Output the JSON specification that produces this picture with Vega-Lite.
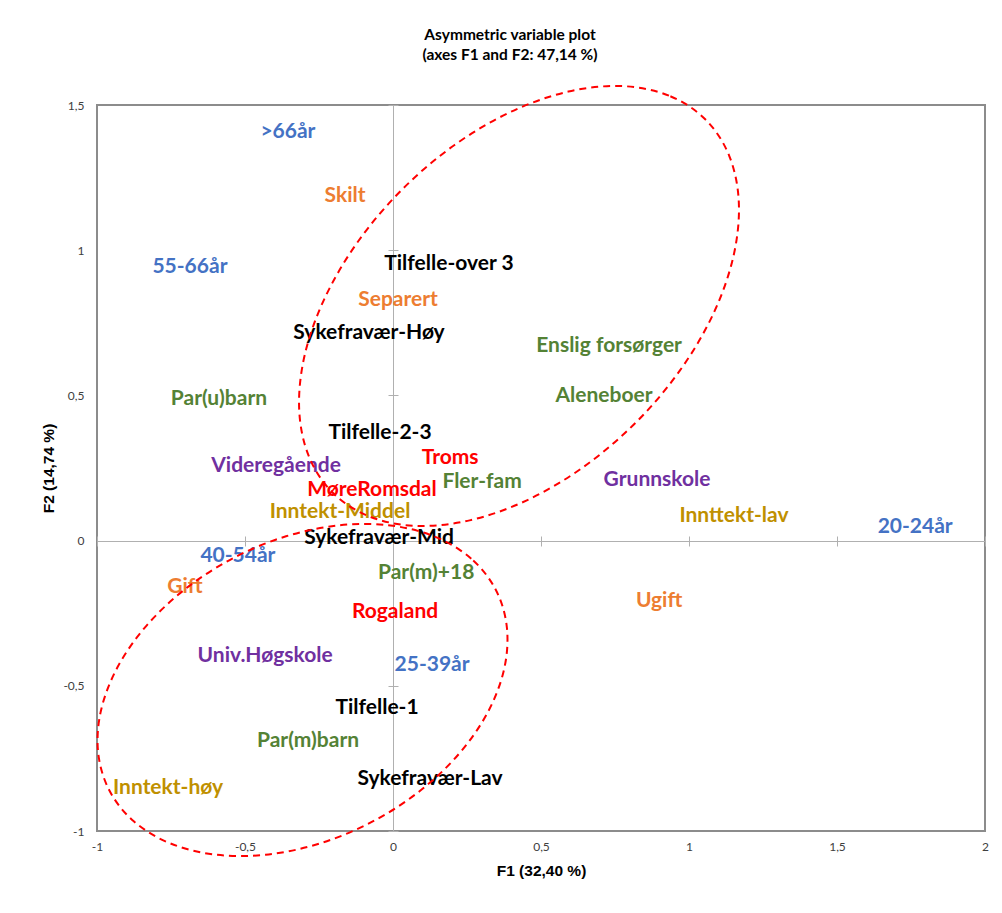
{
  "$schema": "https://vega.github.io/schema/vega-lite/v6.json",
  "width": 888,
  "height": 726,
  "autosize": {"type": "none"},
  "padding": {"left": 97, "top": 105, "right": 17, "bottom": 82},
  "background": "white",
  "title": {
    "text": ["Asymmetric variable plot", "(axes F1 and F2: 47,14 %)"],
    "font": "Lato",
    "fontSize": 15.5,
    "fontWeight": "bold",
    "color": "#000000",
    "anchor": "middle",
    "dx": -31,
    "offset": 18,
    "lineHeight": 20
  },
  "config": {
    "view": {"stroke": "#8c8c8c", "strokeWidth": 2},
    "text": {"font": "Lato"}
  },
  "datasets": {
    "labels": [
      {"label": ">66år", "F1": -0.355, "F2": 1.407, "group": "age"},
      {"label": "Skilt", "F1": -0.162, "F2": 1.187, "group": "civil"},
      {"label": "55-66år", "F1": -0.686, "F2": 0.942, "group": "age"},
      {"label": "Tilfelle-over 3", "F1": 0.189, "F2": 0.952, "group": "absence"},
      {"label": "Separert", "F1": 0.017, "F2": 0.829, "group": "civil"},
      {"label": "Sykefravær-Høy", "F1": -0.081, "F2": 0.715, "group": "absence"},
      {"label": "Enslig forsørger", "F1": 0.73, "F2": 0.67, "group": "household"},
      {"label": "Par(u)barn", "F1": -0.588, "F2": 0.488, "group": "household"},
      {"label": "Aleneboer", "F1": 0.713, "F2": 0.498, "group": "household"},
      {"label": "Tilfelle-2-3", "F1": -0.044, "F2": 0.371, "group": "absence"},
      {"label": "Troms", "F1": 0.193, "F2": 0.284, "group": "region"},
      {"label": "Videregående", "F1": -0.395, "F2": 0.257, "group": "education"},
      {"label": "Fler-fam", "F1": 0.301, "F2": 0.202, "group": "household"},
      {"label": "Grunnskole", "F1": 0.892, "F2": 0.209, "group": "education"},
      {"label": "MøreRomsdal", "F1": -0.071, "F2": 0.174, "group": "region"},
      {"label": "Inntekt-Middel", "F1": -0.179, "F2": 0.097, "group": "income"},
      {"label": "Innttekt-lav", "F1": 1.152, "F2": 0.085, "group": "income"},
      {"label": "20-24år", "F1": 1.764, "F2": 0.047, "group": "age"},
      {"label": "Sykefravær-Mid", "F1": -0.047, "F2": 0.009, "group": "absence"},
      {"label": "40-54år", "F1": -0.524, "F2": -0.053, "group": "age"},
      {"label": "Par(m)+18", "F1": 0.112, "F2": -0.112, "group": "household"},
      {"label": "Gift", "F1": -0.703, "F2": -0.16, "group": "civil"},
      {"label": "Ugift", "F1": 0.899, "F2": -0.208, "group": "civil"},
      {"label": "Rogaland", "F1": 0.007, "F2": -0.246, "group": "region"},
      {"label": "Univ.Høgskole", "F1": -0.432, "F2": -0.397, "group": "education"},
      {"label": "25-39år", "F1": 0.132, "F2": -0.428, "group": "age"},
      {"label": "Tilfelle-1", "F1": -0.054, "F2": -0.576, "group": "absence"},
      {"label": "Par(m)barn", "F1": -0.287, "F2": -0.69, "group": "household"},
      {"label": "Sykefravær-Lav", "F1": 0.125, "F2": -0.821, "group": "absence"},
      {"label": "Inntekt-høy", "F1": -0.76, "F2": -0.852, "group": "income"}
    ],
    "ellipse1": [
      {"i": 0, "F1": 1.0557, "F2": 1.4501},
      {"i": 1, "F1": 0.9322, "F2": 1.5322},
      {"i": 2, "F1": 0.7742, "F2": 1.5651},
      {"i": 3, "F1": 0.5925, "F2": 1.5462},
      {"i": 4, "F1": 0.3993, "F2": 1.4771},
      {"i": 5, "F1": 0.2079, "F2": 1.3623},
      {"i": 6, "F1": 0.0315, "F2": 1.2098},
      {"i": 7, "F1": -0.1181, "F2": 1.0299},
      {"i": 8, "F1": -0.2307, "F2": 0.8349},
      {"i": 9, "F1": -0.2985, "F2": 0.638},
      {"i": 10, "F1": -0.317, "F2": 0.4527},
      {"i": 11, "F1": -0.2848, "F2": 0.2916},
      {"i": 12, "F1": -0.2043, "F2": 0.1657},
      {"i": 13, "F1": -0.0808, "F2": 0.0836},
      {"i": 14, "F1": 0.0772, "F2": 0.0507},
      {"i": 15, "F1": 0.2589, "F2": 0.0696},
      {"i": 16, "F1": 0.4521, "F2": 0.1387},
      {"i": 17, "F1": 0.6435, "F2": 0.2535},
      {"i": 18, "F1": 0.8199, "F2": 0.406},
      {"i": 19, "F1": 0.9695, "F2": 0.5859},
      {"i": 20, "F1": 1.0821, "F2": 0.7809},
      {"i": 21, "F1": 1.1499, "F2": 0.9778},
      {"i": 22, "F1": 1.1684, "F2": 1.1631},
      {"i": 23, "F1": 1.1362, "F2": 1.3242}
    ],
    "ellipse2": [
      {"i": 0, "F1": 0.3467, "F2": -0.1684},
      {"i": 1, "F1": 0.2644, "F2": -0.0624},
      {"i": 2, "F1": 0.1431, "F2": 0.0128},
      {"i": 3, "F1": -0.0087, "F2": 0.0521},
      {"i": 4, "F1": -0.1808, "F2": 0.0528},
      {"i": 5, "F1": -0.3614, "F2": 0.0148},
      {"i": 6, "F1": -0.5381, "F2": -0.0593},
      {"i": 7, "F1": -0.699, "F2": -0.1644},
      {"i": 8, "F1": -0.8332, "F2": -0.2934},
      {"i": 9, "F1": -0.9313, "F2": -0.4373},
      {"i": 10, "F1": -0.9869, "F2": -0.5866},
      {"i": 11, "F1": -0.996, "F2": -0.731},
      {"i": 12, "F1": -0.9581, "F2": -0.8606},
      {"i": 13, "F1": -0.8758, "F2": -0.9666},
      {"i": 14, "F1": -0.7545, "F2": -1.0418},
      {"i": 15, "F1": -0.6027, "F2": -1.0811},
      {"i": 16, "F1": -0.4306, "F2": -1.0818},
      {"i": 17, "F1": -0.25, "F2": -1.0438},
      {"i": 18, "F1": -0.0733, "F2": -0.9697},
      {"i": 19, "F1": 0.0876, "F2": -0.8646},
      {"i": 20, "F1": 0.2218, "F2": -0.7356},
      {"i": 21, "F1": 0.3199, "F2": -0.5917},
      {"i": 22, "F1": 0.3755, "F2": -0.4424},
      {"i": 23, "F1": 0.3846, "F2": -0.298}
    ]
  },
  "resolve": {"axis": {"x": "independent", "y": "independent"}},
  "layer": [
    {
      "data": {"name": "labels"},
      "mark": {"type": "text", "font": "Lato", "fontSize": 21, "fontWeight": "bold", "align": "center", "baseline": "middle"},
      "encoding": {
        "x": {
          "field": "F1", "type": "quantitative",
          "scale": {"domain": [-1, 2], "nice": false, "zero": false},
          "axis": {
            "values": [-1, -0.5, 0, 0.5, 1, 1.5, 2],
            "labelExpr": "replace(toString(datum.value), '.', ',')",
            "grid": false, "domain": false, "ticks": false,
            "labelFont": "Lato", "labelFontSize": 12, "labelColor": "#404040",
            "labelPadding": 10, "labelFlush": false,
            "title": "F1 (32,40 %)", "titleFont": "Liberation Sans", "titleFontSize": 15.5,
            "titleFontWeight": "bold", "titleColor": "#000000", "titlePadding": 11
          }
        },
        "y": {
          "field": "F2", "type": "quantitative",
          "scale": {"domain": [-1, 1.5], "nice": false, "zero": false},
          "axis": {
            "values": [-1, -0.5, 0, 0.5, 1, 1.5],
            "labelExpr": "replace(toString(datum.value), '.', ',')",
            "grid": false, "domain": false, "ticks": false,
            "labelFont": "Lato", "labelFontSize": 12, "labelColor": "#404040",
            "labelPadding": 13, "labelFlush": false,
            "title": "F2 (14,74 %)", "titleFont": "Liberation Sans", "titleFontSize": 15.5,
            "titleFontWeight": "bold", "titleColor": "#000000", "titlePadding": 6
          }
        },
        "text": {"field": "label"},
        "color": {
          "field": "group", "type": "nominal", "legend": null,
          "scale": {
            "domain": ["age", "civil", "household", "education", "region", "income", "absence"],
            "range": ["#4472C4", "#ED7D31", "#548235", "#7030A0", "#FF0000", "#BF9000", "#000000"]
          }
        }
      }
    },
    {
      "data": {"name": "ellipse1"},
      "mark": {"type": "line", "color": "#FF0000", "strokeWidth": 2, "strokeDash": [7, 5], "clip": false, "interpolate": "cardinal-closed"},
      "encoding": {
        "x": {
          "field": "F1", "type": "quantitative",
          "axis": {"orient": "top", "offset": -436, "values": [-1, -0.5, 0, 0.5, 1, 1.5, 2], "labels": false, "grid": false, "title": null,
                   "domainColor": "#b0b0b0", "domainWidth": 1, "tickColor": "#b0b0b0", "tickSize": 5, "tickWidth": 1}
        },
        "y": {
          "field": "F2", "type": "quantitative",
          "axis": {"orient": "right", "offset": -592, "values": [-1, -0.5, 0, 0.5, 1, 1.5], "labels": false, "grid": false, "title": null,
                   "domainColor": "#b0b0b0", "domainWidth": 1, "tickColor": "#b0b0b0", "tickSize": 5, "tickWidth": 1}
        },
        "order": {"field": "i", "type": "quantitative"}
      }
    },
    {
      "data": {"name": "ellipse2"},
      "mark": {"type": "line", "color": "#FF0000", "strokeWidth": 2, "strokeDash": [7, 5], "clip": false, "interpolate": "cardinal-closed"},
      "encoding": {
        "x": {
          "field": "F1", "type": "quantitative",
          "axis": {"orient": "bottom", "offset": -290, "values": [-1, -0.5, 0, 0.5, 1, 1.5, 2], "labels": false, "grid": false, "title": null,
                   "domainColor": "#b0b0b0", "domainWidth": 1, "tickColor": "#b0b0b0", "tickSize": 5, "tickWidth": 1}
        },
        "y": {
          "field": "F2", "type": "quantitative",
          "axis": {"orient": "left", "offset": -296, "values": [-1, -0.5, 0, 0.5, 1, 1.5], "labels": false, "grid": false, "title": null,
                   "domainColor": "#b0b0b0", "domainWidth": 1, "tickColor": "#b0b0b0", "tickSize": 5, "tickWidth": 1}
        },
        "order": {"field": "i", "type": "quantitative"}
      }
    }
  ]
}
